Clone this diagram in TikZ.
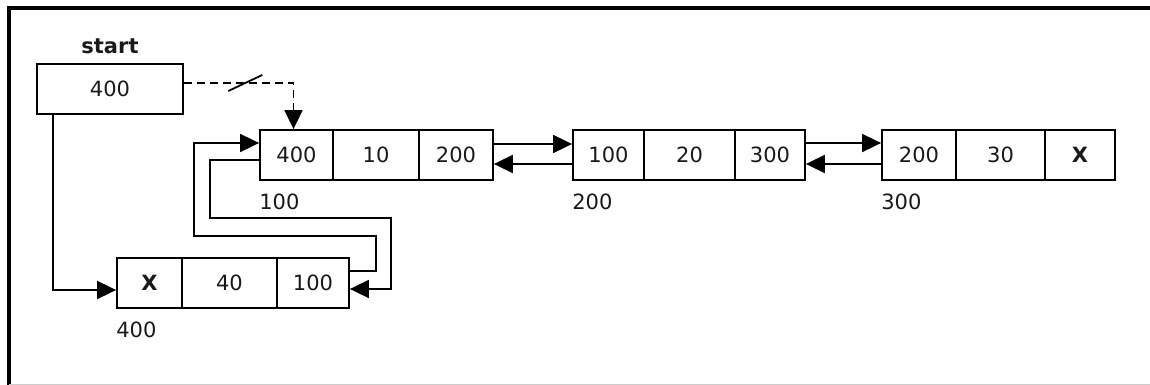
\documentclass[tikz,border=0pt]{standalone}
\usepackage{fontspec}
\setmainfont{DejaVu Sans}
\usetikzlibrary{arrows.meta}

\begin{document}
\begin{tikzpicture}[x=1pt, y=-1pt, >={Stealth[length=19pt,width=18pt,inset=0pt]},
    font=\fontsize{21}{25}\selectfont,
    cell/.style={draw, line width=1.8pt, minimum height=50pt, inner sep=0pt, text=black!90},
    addr/.style={anchor=west, inner sep=0pt, text=black!90},
    link/.style={line width=1.8pt}]
    \useasboundingbox (0,0) rectangle (1150,385);
    \draw[line width=3.5pt] (9,385) -- (9,8) -- (1150,8);
    \draw[gray!40, line width=1pt] (9,384) -- (1150,384);

    % start pointer
    \node[cell, minimum width=146pt] (start) at (110,89) {400};
    \node[font=\fontsize{21}{25}\selectfont\bfseries, text=black!90] (startlbl) at ([yshift=17pt]start.north) {start};

    % cells: name/centre x/centre y/width/text
    \foreach \name/\x/\y/\w/\t in {
        n1a/296.5/155/73/400, n1b/376/155/86/10, n1c/456/155/74/200,
        n2a/608.5/155/71/100, n2b/689.5/155/91/20, n2c/770/155/70/300,
        n3a/919/155/74/200, n3b/1000.5/155/89/30, n3c/1080/155/70/{\textbf{X}},
        n4a/149.5/283/65/{\textbf{X}}, n4b/229.5/283/95/40, n4c/313/283/72/100
    } {
        \node[cell, minimum width=\w pt] (\name) at (\x,\y) {\t};
    }

    % addresses
    \foreach \cellname/\t in {n1a/100, n2a/200, n3a/300, n4a/400} {
        \node[addr] (addr-\cellname) at ([yshift=-21pt]\cellname.south west) {\t};
    }

    % next / prev links
    \draw[link, ->] ([yshift=11pt]n1c.east) -- ([yshift=11pt]n2a.west);
    \draw[link, ->] ([yshift=-9pt]n2a.west) -- ([yshift=-9pt]n1c.east);
    \draw[link, ->] ([yshift=12pt]n2c.east) -- ([yshift=12pt]n3a.west);
    \draw[link, ->] ([yshift=-9pt]n3a.west) -- ([yshift=-9pt]n2c.east);

    % old start link, cut
    \draw[link, dash pattern=on 8pt off 5pt, ->] ([yshift=6pt]start.east)
        -| coordinate[pos=0.28] (cut) ([xshift=-3pt]n1a.north);
    \draw[link] (cut) +(-17,8) -- +(17,-8);

    % new start link
    \draw[link, ->] ([xshift=-57pt]start.south) |- ([yshift=-7pt]n4a.west);

    % links between the new node and the old first node
    \draw[link, ->] ([yshift=12pt]n4c.east) -- ++(26,0) -- ++(0,-35) -- ++(-182,0)
        |- ([yshift=12pt]n1a.west);
    \draw[link, ->] ([yshift=-5pt]n1a.west) -- ++(-49,0) -- ++(0,58) -- ++(181,0)
        |- ([yshift=-6pt]n4c.east);
\end{tikzpicture}
\end{document}
